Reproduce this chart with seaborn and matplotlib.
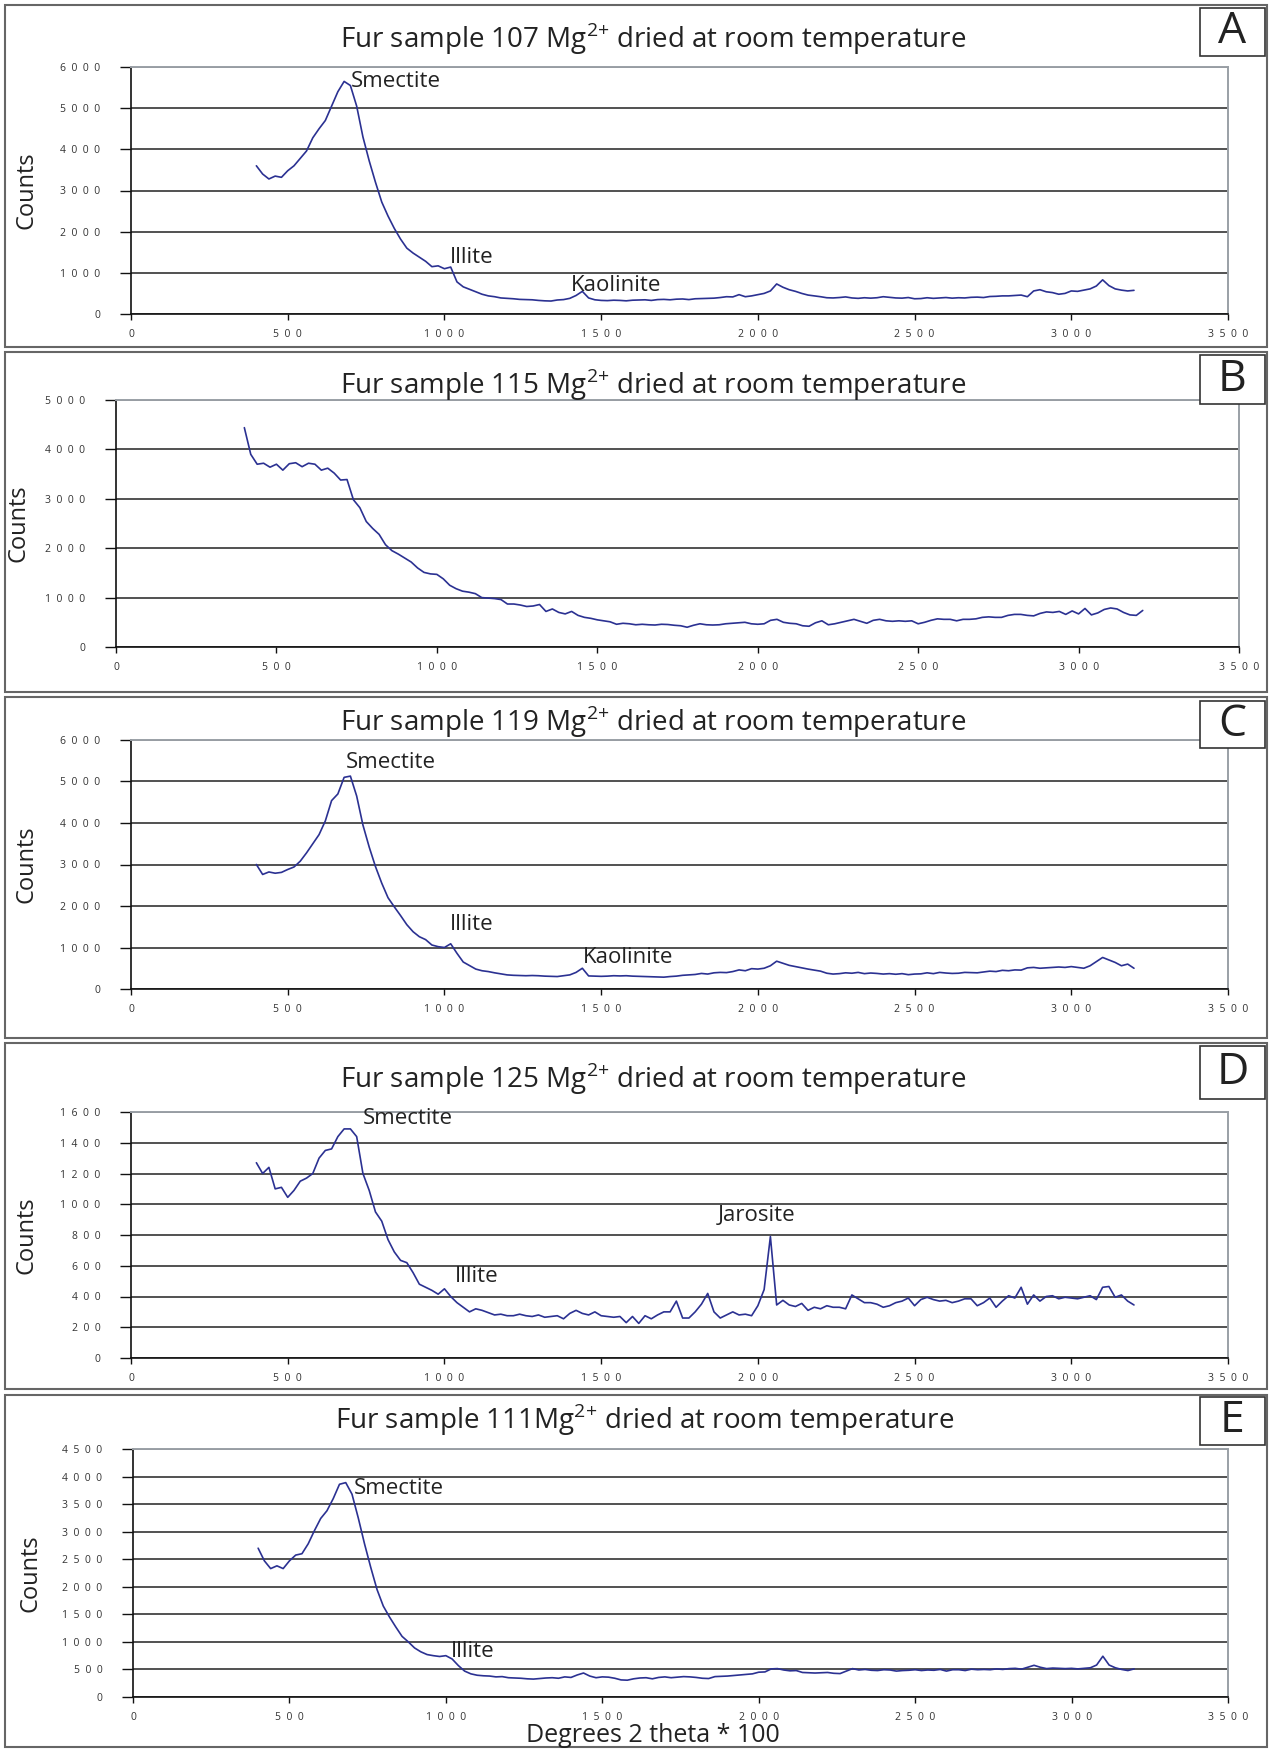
import matplotlib.pyplot as plt
import matplotlib.patches as patches
import numpy as np
import pandas as pd
import seaborn as sns

sns.set_style("white")
plt.rcParams["font.family"] = ["Open Sans", "DejaVu Sans"]
plt.rcParams["mathtext.fontset"] = "custom"
plt.rcParams["mathtext.rm"] = "Open Sans"

# measurement grid, degrees 2 theta * 100
two_theta = np.arange(400, 3201, 20)

samples = ["107", "115", "119", "125", "111"]
letters = ["A", "B", "C", "D", "E"]

counts_107 = [
    3600, 3400, 3280, 3350, 3320, 3480, 3600, 3780, 3960, 4280,
    4500, 4700, 5050, 5400, 5650, 5550, 5050, 4300, 3720, 3200,
    2720, 2380, 2080, 1820, 1600, 1480, 1380, 1280, 1150, 1170,
    1100, 1140, 780, 660, 600, 540, 480, 440, 420, 390,
    380, 370, 355, 350, 345, 330, 320, 315, 340, 350,
    380, 450, 550, 390, 345, 330, 325, 335, 330, 320,
    335, 340, 345, 330, 350, 355, 345, 360, 365, 350,
    370, 375, 380, 385, 400, 420, 415, 470, 420, 440,
    470, 500, 560, 730, 650, 590, 550, 500, 460, 440,
    420, 395, 390, 400, 415, 390, 380, 395, 385, 395,
    420, 405, 390, 385, 400, 370, 375, 395, 380, 390,
    400, 385, 395, 390, 405, 410, 400, 425, 430, 440,
    440, 450, 460, 420, 560, 590, 540, 520, 480, 500,
    560, 550, 580, 610, 680, 830, 690, 610, 580, 560,
    575,
]

counts_115 = [
    4440, 3900, 3700, 3720, 3640, 3700, 3580, 3710, 3730, 3650,
    3720, 3700, 3580, 3620, 3520, 3380, 3390, 2980, 2820, 2540,
    2400, 2280, 2070, 1950, 1880, 1800, 1720, 1600, 1510, 1480,
    1470, 1380, 1250, 1180, 1130, 1110, 1080, 1000, 990, 980,
    960, 870, 870, 850, 820, 830, 860, 720, 770, 700,
    670, 720, 640, 600, 580, 550, 530, 510, 460, 480,
    470, 450, 460, 450, 445, 460, 455, 440, 430, 400,
    440, 470, 450, 445, 450, 470, 480, 490, 500, 470,
    460, 470, 540, 560, 500, 480, 470, 430, 420, 490,
    530, 450, 470, 500, 530, 560, 520, 480, 540, 560,
    530, 520, 530, 520, 530, 470, 500, 540, 570, 560,
    560, 530, 560, 560, 570, 600, 610, 600, 600, 640,
    660, 660, 640, 630, 680, 710, 700, 720, 660, 730,
    670, 780, 650, 690, 760, 790, 770, 700, 650, 640,
    740,
]

counts_119 = [
    3000, 2760, 2820, 2790, 2810, 2880, 2940, 3080, 3280, 3500,
    3720, 4050, 4540, 4700, 5100, 5130, 4650, 3950, 3420, 2950,
    2550, 2200, 1980, 1770, 1550, 1380, 1260, 1190, 1060, 1020,
    1000, 1090, 860, 650, 565, 480, 440, 420, 390, 365,
    340, 330, 325, 320, 325, 320, 310, 305, 300, 320,
    340, 400, 500, 315, 310, 305, 310, 320, 315, 320,
    310, 305, 300, 295, 290, 285, 300, 310, 330, 340,
    350, 375, 360, 390, 400, 395, 420, 460, 440, 490,
    480, 500, 560, 670, 620, 570, 540, 510, 480, 455,
    430, 380, 360, 370, 390, 380, 400, 370, 385, 375,
    360, 370, 355, 370, 345, 360, 365, 390, 370, 400,
    385, 375, 380, 400, 395, 390, 410, 430, 420, 450,
    440, 460, 455, 510, 520, 500, 510, 520, 530, 520,
    540, 520, 500, 560, 660, 760, 700, 640, 560, 600,
    500,
]

counts_125 = [
    1270, 1200, 1240, 1100, 1110, 1045, 1090, 1150, 1170, 1200,
    1300, 1350, 1360, 1440, 1490, 1490, 1440, 1200, 1090, 950,
    890, 770, 690, 635, 620, 555, 480, 460, 440, 415,
    450, 400, 360, 330, 300, 320, 310, 295, 280, 285,
    275, 275, 285, 275, 270, 280, 265, 270, 275, 255,
    290, 310, 290, 280, 300, 275, 270, 265, 270, 230,
    270, 225, 275, 255, 280, 300, 300, 370, 260, 260,
    300, 350, 420, 300, 260, 280, 300, 280, 285, 275,
    340, 445, 790, 345, 375, 345, 335, 355, 310, 330,
    320, 340, 330, 330, 320, 410, 385, 360, 360, 350,
    330, 340, 360, 370, 390, 340, 380, 395, 380, 370,
    375, 360, 370, 385, 385, 340, 360, 390, 330, 370,
    405, 390, 460, 350, 410, 370, 400, 405, 385, 395,
    390, 385, 395, 405, 380, 460, 465, 395, 410, 370,
    345,
]

counts_111 = [
    2700, 2470, 2330, 2380, 2330, 2470, 2575, 2600, 2780, 3020,
    3240, 3380, 3600, 3860, 3890, 3680, 3250, 2780, 2350, 1950,
    1650, 1450, 1270, 1100, 1000, 890, 820, 770, 750, 735,
    750, 690, 570, 470, 420, 395, 385, 380, 365, 370,
    350, 345, 340, 330, 325, 335, 345, 350, 340, 365,
    355, 400, 435, 380, 350, 365, 360, 340, 310, 305,
    330, 345, 350, 330, 355, 365, 350, 360, 370, 365,
    355, 340, 335, 370, 375, 380, 390, 400, 410, 420,
    450, 455, 510, 515, 490, 475, 480, 445, 440, 435,
    440, 445, 430, 425, 470, 515, 490, 500, 485, 480,
    495, 490, 470, 480, 485, 495, 480, 490, 485, 500,
    470, 495, 495, 480, 505, 495, 500, 495, 510, 500,
    515, 520, 505, 540, 575, 540, 515, 525, 520, 515,
    520, 510, 520, 530, 580, 740, 580, 530, 500, 480,
    510,
]

all_counts = [counts_107, counts_115, counts_119, counts_125, counts_111]
y_max = [6000, 5000, 6000, 1600, 4500]
y_step = [1000, 1000, 1000, 200, 500]

peak_labels = [
    [("Smectite", 700, 5640), ("Illite", 1018, 1380), ("Kaolinite", 1404, 690)],
    [],
    [("Smectite", 686, 5450), ("Illite", 1018, 1560), ("Kaolinite", 1442, 760)],
    [("Smectite", 740, 1560), ("Illite", 1034, 530), ("Jarosite", 1873, 925)],
    [("Smectite", 706, 3780), ("Illite", 1016, 830)],
]

# layout in pixels of the 1270x1750 canvas
W, H = 1270, 1750
layout = [
    dict(box=(5, 5, 1267, 347), plot=(131, 67, 1228, 314), title_y=39,
         lbox=(1200, 8, 1265, 56), ylab_x=27, title_x=653),
    dict(box=(5, 352, 1267, 692), plot=(116, 400, 1239, 647), title_y=385,
         lbox=(1200, 355, 1265, 404), ylab_x=18, title_x=653),
    dict(box=(5, 697, 1267, 1038), plot=(131, 740, 1228, 989), title_y=722,
         lbox=(1200, 701, 1265, 748), ylab_x=27, title_x=653),
    dict(box=(5, 1043, 1267, 1389), plot=(131, 1112, 1228, 1358), title_y=1079,
         lbox=(1200, 1046, 1265, 1099), ylab_x=27, title_x=653),
    dict(box=(5, 1395, 1267, 1747), plot=(133, 1449, 1228, 1697), title_y=1420,
         lbox=(1200, 1397, 1265, 1445), ylab_x=30, title_x=645),
]

line_color = "#2b3192"

fig = plt.figure(figsize=(12.7, 17.5), dpi=100)


def fx(px):
    return px / W


def fy(py):
    return 1 - py / H


def spaced(v):
    return "  ".join(str(v))


for i, lay in enumerate(layout):
    # panel frame
    bx0, by0, bx1, by1 = lay["box"]
    fig.patches.append(patches.Rectangle(
        (fx(bx0), fy(by1)), (bx1 - bx0) / W, (by1 - by0) / H,
        transform=fig.transFigure, fill=False, edgecolor="#666666", linewidth=1.5))

    x0, y0, x1, y1 = lay["plot"]
    ax = fig.add_axes([fx(x0), fy(y1), (x1 - x0) / W, (y1 - y0) / H])
    df = pd.DataFrame({"two_theta": two_theta, "counts": all_counts[i]})
    sns.lineplot(data=df, x="two_theta", y="counts", ax=ax,
                 color=line_color, linewidth=1.2)

    ax.set_xlim(0, 3500)
    ax.set_ylim(0, y_max[i])
    yt = np.arange(0, y_max[i] + 1, y_step[i])
    ax.set_yticks(yt)
    ax.set_yticklabels([spaced(v) for v in yt])
    xt = np.arange(0, 3501, 500)
    ax.set_xticks(xt)
    ax.set_xticklabels([spaced(v) for v in xt])

    ax.set_axisbelow(True)
    ax.grid(axis="y", color="#222222", linewidth=1.1)
    ax.grid(axis="x", visible=False)
    for side in ["left", "bottom"]:
        ax.spines[side].set_color("#111111")
        ax.spines[side].set_linewidth(1.2)
    for side in ["top", "right"]:
        ax.spines[side].set_color("#9aa0a6")
        ax.spines[side].set_linewidth(1.4)

    ax.tick_params(axis="y", direction="out", length=8, width=1,
                   color="#111111", pad=14, labelsize=7.5, labelcolor="#333333", left=True)
    ax.tick_params(axis="x", direction="out", length=4, width=1,
                   color="#111111", pad=7, labelsize=7.5, labelcolor="#333333", bottom=True)

    ax.set_xlabel("")
    ax.set_ylabel("Counts", fontsize=17, color="#222222", va="center")
    ax.yaxis.set_label_coords((lay["ylab_x"] - x0) / (x1 - x0), 0.5)

    for text, px, py in peak_labels[i]:
        ax.text(px, py, text, fontsize=16, ha="left", va="center", color="#222222")

    # title
    sep = " " if i < 4 else ""
    fig.text(fx(lay["title_x"]), fy(lay["title_y"]),
             f"Fur sample {samples[i]}{sep}Mg$^{{2{{+}}}}$ dried at room temperature",
             ha="center", va="center", fontsize=20, color="#222222")

    # panel letter
    lx0, ly0, lx1, ly1 = lay["lbox"]
    fig.patches.append(patches.Rectangle(
        (fx(lx0), fy(ly1)), (lx1 - lx0) / W, (ly1 - ly0) / H,
        transform=fig.transFigure, facecolor="white", edgecolor="#333333", linewidth=1.2))
    fig.text(fx((lx0 + lx1) / 2), fy((ly0 + ly1) / 2), letters[i],
             ha="center", va="center", fontsize=32, color="#222222")

fig.text(fx(653), fy(1735), "Degrees 2 theta * 100",
         ha="center", va="center", fontsize=18, color="#222222")

fig.savefig("out.png", dpi=100)
